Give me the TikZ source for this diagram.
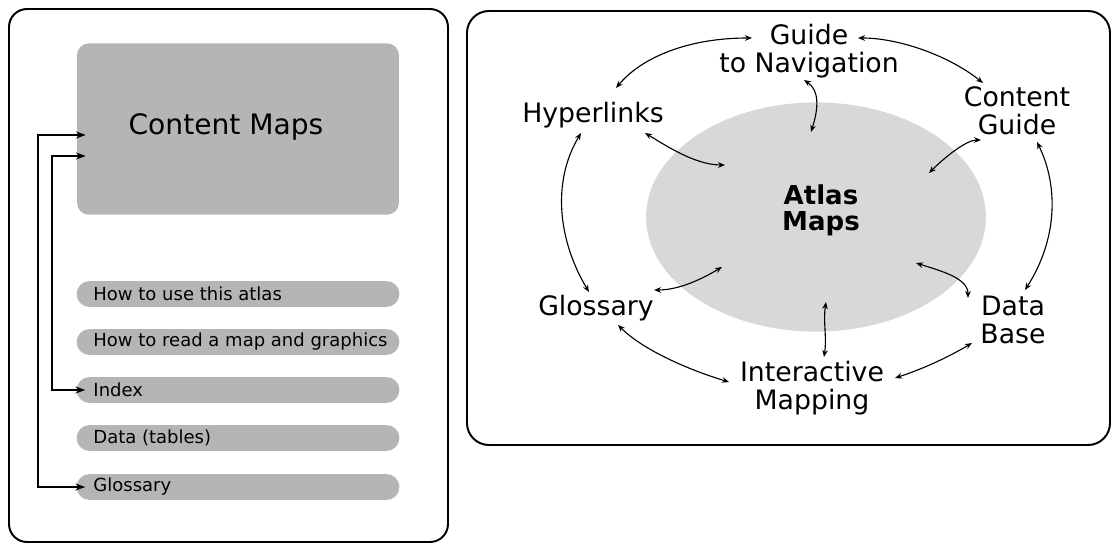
\documentclass[tikz,border=0pt]{standalone}
\usepackage{fontspec}
\setmainfont{DejaVu Sans}
\usetikzlibrary{arrows.meta,shapes.geometric}
\definecolor{boxgray}{HTML}{B5B5B5}
\definecolor{atlasgray}{HTML}{D8D8D8}
\tikzset{
	panel/.style={draw=black, line width=1.4pt},
	barbox/.style={fill=boxgray, rounded corners=9.2pt, minimum width=229.6pt, minimum height=18.4pt, inner sep=0pt},
	bartext/.style={anchor=west, inner sep=0pt, font=\fontsize{12.8}{15}\selectfont},
	lbl/.style={align=center, inner sep=0pt, font=\fontsize{19}{20}\selectfont},
	feed/.style={line width=1.2pt, {Stealth[length=7pt,width=5pt]}-{Stealth[length=7pt,width=5pt]}},
	link/.style={line width=0.8pt, {Stealth[length=5pt,width=4pt]}-{Stealth[length=5pt,width=4pt]}}
}

\begin{document}
\begin{tikzpicture}[x=0.025cm,y=-0.025cm]
			%%%%% START %%%%%
			\useasboundingbox (0,0) rectangle (1112,544);
			
			% left panel
			\draw[panel, rounded corners=12.8pt] (9,9) rectangle (448,542);
			\node[fill=boxgray, rounded corners=8.5pt, minimum width=228.9pt, minimum height=121.9pt, inner sep=0pt] (cmap) at (238,129) {};
			\node[font=\fontsize{20}{24}\selectfont, inner sep=0pt] (cmaptext) at (226,127) {Content Maps};
			
			\foreach \n/\y/\t in {use/294/How to use this atlas, read/342/How to read a map and graphics, index/390/Index, data/438/Data (tables), gloss/487/Glossary}
			{
				\node[barbox] (\n) at (238,\y) {};
				\node[bartext] (\n text) at ([xshift=12pt]\n.west) {\t};
			}
			
			\draw[feed] ([shift={(9,6)}]cmap.west) -- ++(-48,0) |- ([xshift=6.4pt]gloss.west);
			\draw[feed] ([shift={(9,27)}]cmap.west) -- ++(-34,0) |- ([xshift=6.4pt]index.west);
			
			% right panel
			\draw[panel, rounded corners=15.6pt] (467,11) rectangle (1110,445);
			\node[ellipse, fill=atlasgray, minimum width=241.7pt, minimum height=163pt, inner sep=0pt] (atlasbg) at (816,217) {};
			\node[align=center, inner sep=0pt, font=\fontsize{18.5}{18.4}\selectfont\bfseries] (atlas) at (821,210) {Atlas\\Maps};
			
			\node[lbl] (guide) at (809,51) {Guide\\to Navigation};
			\node[lbl] (hyper) at (593,115) {Hyperlinks};
			\node[lbl] (cguide) at (1017,111) {Content\\Guide};
			\node[lbl] (glos) at (596,308) {Glossary};
			\node[lbl] (dbase) at (1013,320) {Data\\Base};
			\node[lbl] (inter) at (812,388) {Interactive\\Mapping};
			
			% ring
			\draw[link] ([shift={(23,-27)}]hyper.center) .. controls +(25,-30) and +(-65,0) .. ([shift={(-57,-13)}]guide.center);
			\draw[link] ([shift={(49,-13)}]guide.center) .. controls +(40,0) and +(-35,-28) .. ([shift={(-34,-28)}]cguide.center);
			\draw[link] ([shift={(-12,18)}]hyper.center) .. controls +(-30,50) and +(-30,-50) .. ([shift={(-7,-16)}]glos.center);
			\draw[link] ([shift={(20,31)}]cguide.center) .. controls +(22,45) and +(32,-50) .. ([shift={(12,-30)}]dbase.center);
			\draw[link] ([shift={(22,17)}]glos.center) .. controls +(25,25) and +(-40,-12) .. ([shift={(-83,-6)}]inter.center);
			\draw[link] ([shift={(83,-10)}]inter.center) .. controls +(25,-8) and +(-25,15) .. ([shift={(-41,23)}]dbase.center);
			
			% spokes
			\draw[link] ([shift={(-5,29)}]guide.center) .. controls +(15,10) and +(8,-25) .. ([shift={(-5,-85)}]atlasbg.center);
			\draw[link] ([shift={(52,18)}]hyper.center) .. controls +(20,12) and +(-30,0) .. ([shift={(-91,-52)}]atlasbg.center);
			\draw[link] ([shift={(-36,29)}]cguide.center) .. controls +(-15,0) and +(15,-15) .. ([shift={(113,-44)}]atlasbg.center);
			\draw[link] ([shift={(58,-18)}]glos.center) .. controls +(25,0) and +(-20,12) .. ([shift={(-94,50)}]atlasbg.center);
			\draw[link] ([shift={(-45,-22)}]dbase.center) .. controls +(0,-20) and +(25,8) .. ([shift={(100,46)}]atlasbg.center);
			\draw[link] ([shift={(12,-31)}]inter.center) .. controls +(3,-20) and +(-3,20) .. ([shift={(10,85)}]atlasbg.center);
			
			%%%%% END %%%%%
\end{tikzpicture}
\end{document}
